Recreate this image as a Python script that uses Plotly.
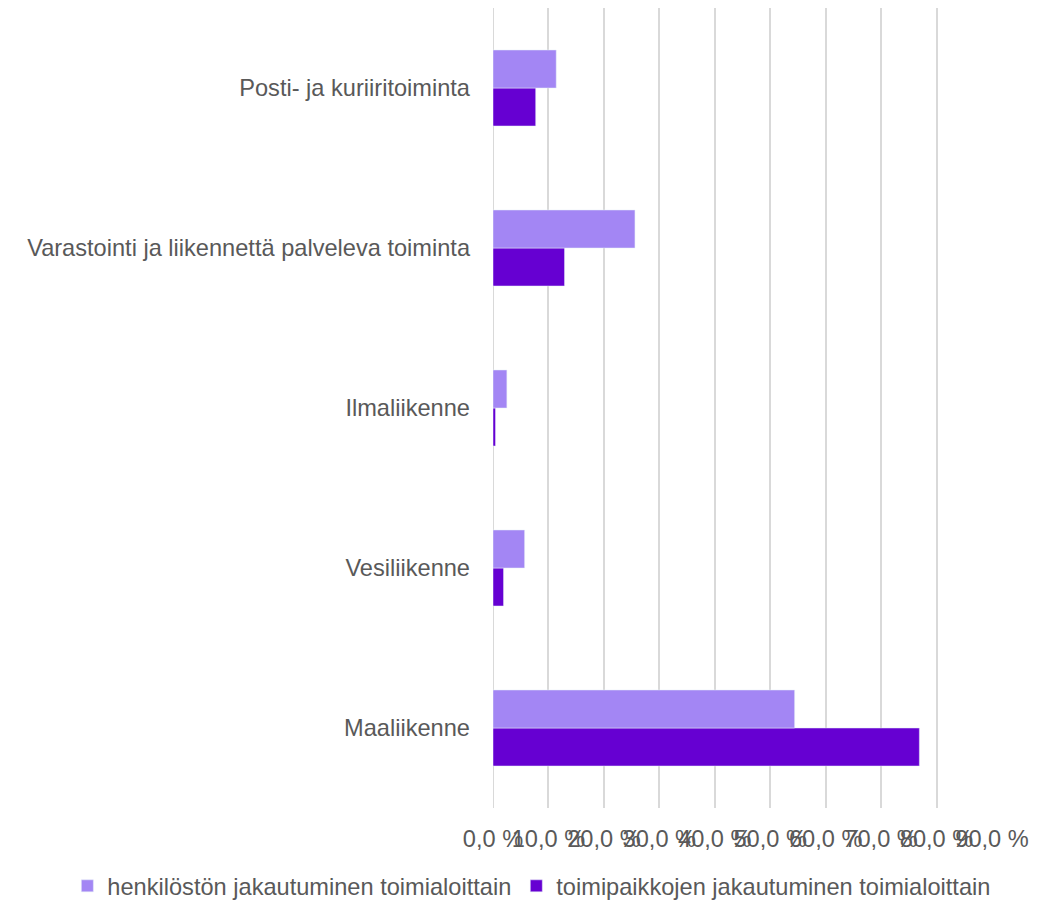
import plotly.graph_objects as go

categories = ["Maaliikenne", "Vesiliikenne", "Ilmaliikenne",
              "Varastointi ja liikennettä palveleva toiminta", "Posti- ja kuriiritoiminta"]
henkilosto = [54.4, 5.7, 2.5, 25.6, 11.4]
toimipaikat = [76.9, 1.9, 0.45, 12.9, 7.7]
tick_vals = [0, 10, 20, 30, 40, 50, 60, 70, 80, 90]
tick_text = ["0,0 %", "10,0 %", "20,0 %", "30,0 %", "40,0 %", "50,0 %",
             "60,0 %", "70,0 %", "80,0 %", "90,0 %"]

font = dict(family="Liberation Sans, Arial, sans-serif", size=23.6, color="#595959")

fig = go.Figure()
fig.add_trace(go.Bar(y=categories, x=toimipaikat, orientation="h",
                     name="toimipaikkojen jakautuminen toimialoittain",
                     marker=dict(color="#6600D2"), legendrank=2))
fig.add_trace(go.Bar(y=categories, x=henkilosto, orientation="h",
                     name="henkilöstön jakautuminen toimialoittain",
                     marker=dict(color="#A386F4"), legendrank=1))

fig.update_layout(
    width=1043, height=893,
    margin=dict(l=485, r=59, t=0, b=93, autoexpand=False),
    paper_bgcolor="white", plot_bgcolor="white",
    barmode="group", bargap=0.525, bargroupgap=0,
    font=font,
    showlegend=True,
    legend=dict(orientation="h", x=-0.853, y=-0.07, xanchor="left", yanchor="top",
                font=font, itemwidth=30, traceorder="normal"),
    xaxis=dict(range=[0, 90], tickvals=tick_vals, ticktext=tick_text, tickangle=0,
               showgrid=True, gridcolor="#D9D9D9", gridwidth=2,
               zeroline=False, showline=False, ticks="", automargin=False,
               ticklabelstandoff=14, tickfont=font, fixedrange=True),
    yaxis=dict(showgrid=False, zeroline=False, showline=False, ticks="",
               automargin=False, ticklabelstandoff=22, tickfont=font),
)
fig.add_shape(type="line", xref="x", yref="paper", x0=0, x1=0, y0=0, y1=1,
              line=dict(color="#D9D9D9", width=2), layer="below")

fig.write_html("out.html")
